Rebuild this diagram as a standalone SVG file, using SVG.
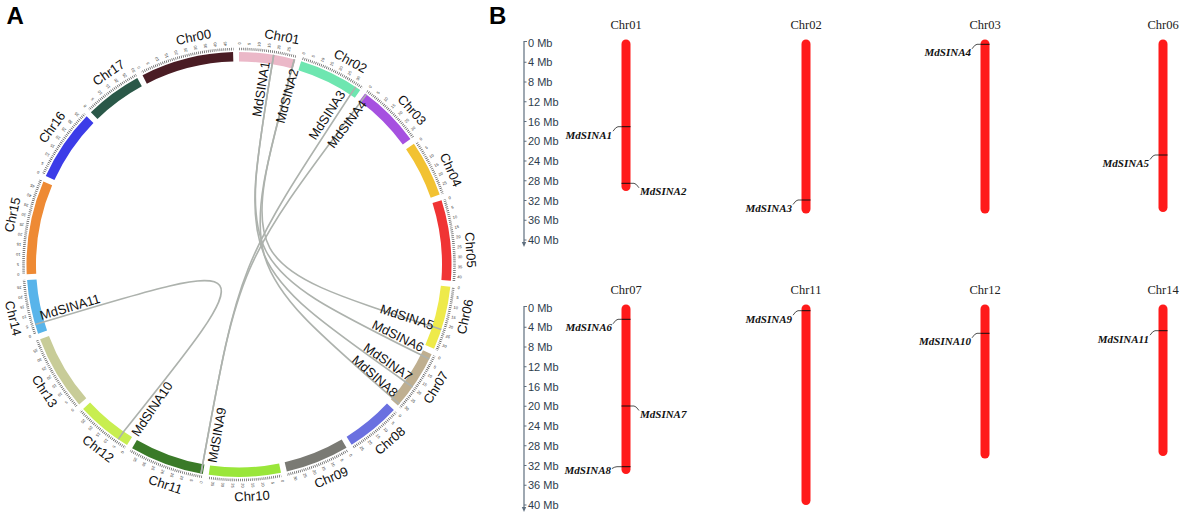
<svg xmlns="http://www.w3.org/2000/svg" xmlns:xlink="http://www.w3.org/1999/xlink" width="1183" height="519" viewBox="0 0 1183 519">
<style>
.chr{fill:none;stroke-width:9.5}
.tk{font-family:"Liberation Sans",Arial,sans-serif;font-size:4px;fill:#333;text-anchor:middle;dominant-baseline:central}
.cla{font-family:"Liberation Sans",Arial,sans-serif;font-size:13px;fill:#111;text-anchor:middle;dominant-baseline:central}
.gla{font-family:"Liberation Sans",Arial,sans-serif;font-size:13px;fill:#111;text-anchor:middle;dominant-baseline:central}
.lk{fill:none;stroke:#adb2ad;stroke-width:1.6}
.pl{font-family:"Liberation Sans",Arial,sans-serif;font-size:24px;font-weight:bold;fill:#000}
.bar{fill:#ff1a1a}
.gm{stroke:#111;stroke-width:1}
.ld{fill:none;stroke:#222;stroke-width:0.8}
.glb{font-family:"Liberation Serif","Times New Roman",serif;font-size:11px;font-weight:bold;font-style:italic;fill:#111}
.clb{font-family:"Liberation Serif","Times New Roman",serif;font-size:12.5px;fill:#222;text-anchor:middle}
.ax{font-family:"Liberation Sans",Arial,sans-serif;font-size:11px;fill:#2e3d4d}
.axl{fill:none;stroke:#5f6f7f;stroke-width:1.2}
</style>
<defs>
<mask id="tm" maskUnits="userSpaceOnUse" x="0" y="0" width="1183" height="519">
<circle cx="239" cy="264.5" r="215.5" fill="none" stroke="#fff" stroke-width="10" stroke-dasharray="57.92 6.02 66.95 6.02 65.44 6.02 57.92 6.02 82.75 6.02 65.44 6.02 62.44 6.02 55.67 6.02 65.44 6.02 73.72 6.02 76.73 6.02 57.92 6.02 77.48 6.02 55.67 6.02 96.29 6.02 73.72 6.02 58.67 6.02 95.53 6.02" transform="rotate(-90 239 264.5)"/>
</mask>
<g id="s25" class="tk">
<text transform="rotate(0 239 264.5) translate(239 43.5) rotate(-90)">0</text>
<text transform="rotate(2.6 239 264.5) translate(239 43.5) rotate(-90)">5</text>
<text transform="rotate(5.2 239 264.5) translate(239 43.5) rotate(-90)">10</text>
<text transform="rotate(7.8 239 264.5) translate(239 43.5) rotate(-90)">15</text>
<text transform="rotate(10.4 239 264.5) translate(239 43.5) rotate(-90)">20</text>
<text transform="rotate(13 239 264.5) translate(239 43.5) rotate(-90)">25</text>
</g>
<g id="s30"><use href="#s25"/><text class="tk" transform="rotate(15.6 239 264.5) translate(239 43.5) rotate(-90)">30</text></g>
<g id="s35"><use href="#s30"/><text class="tk" transform="rotate(18.2 239 264.5) translate(239 43.5) rotate(-90)">35</text></g>
<g id="s40"><use href="#s35"/><text class="tk" transform="rotate(20.8 239 264.5) translate(239 43.5) rotate(-90)">40</text></g>
<g id="s45"><use href="#s40"/><text class="tk" transform="rotate(23.4 239 264.5) translate(239 43.5) rotate(-90)">45</text></g>
</defs>
<rect width="1183" height="519" fill="#fff"/>
<text class="pl" x="6.5" y="24">A</text>
<text class="pl" x="489" y="24">B</text>

<circle cx="239" cy="264.5" r="215.5" fill="none" stroke="#555" stroke-width="2.6" stroke-dasharray="0.7 1.256" mask="url(#tm)"/>

<g id="chr01"><circle class="chr" cx="239" cy="264.5" r="207.75" stroke="#ebb8c8" stroke-dasharray="55.84 2000" transform="rotate(-90 239 264.5)"/><use href="#s25" transform="rotate(0 239 264.5)"/><text class="cla" x="239" y="32.5" transform="rotate(10.7 239 264.5)">Chr01</text></g>
<g id="chr02"><circle class="chr" cx="239" cy="264.5" r="207.75" stroke="#6ee6b0" stroke-dasharray="64.54 2000" transform="rotate(-73 239 264.5)"/><use href="#s30" transform="rotate(17 239 264.5)"/><text class="cla" x="239" y="32.5" transform="rotate(28.7 239 264.5)">Chr02</text></g>
<g id="chr03"><circle class="chr" cx="239" cy="264.5" r="207.75" stroke="#a651e0" stroke-dasharray="63.09 2000" transform="rotate(-53.6 239 264.5)"/><use href="#s30" transform="rotate(36.4 239 264.5)"/><text class="cla" x="239" y="32.5" transform="rotate(48.2 239 264.5)">Chr03</text></g>
<g id="chr04"><circle class="chr" cx="239" cy="264.5" r="207.75" stroke="#f2c232" stroke-dasharray="55.84 2000" transform="rotate(-34.6 239 264.5)"/><use href="#s25" transform="rotate(55.4 239 264.5)"/><text class="cla" x="239" y="32.5" transform="rotate(65.9 239 264.5)">Chr04</text></g>
<g id="chr05"><circle class="chr" cx="239" cy="264.5" r="207.75" stroke="#f03434" stroke-dasharray="79.77 2000" transform="rotate(-17.6 239 264.5)"/><use href="#s40" transform="rotate(72.4 239 264.5)"/><text class="cla" x="239" y="32.5" transform="rotate(86.4 239 264.5)">Chr05</text></g>
<g id="chr06"><circle class="chr" cx="239" cy="264.5" r="207.75" stroke="#eeea4a" stroke-dasharray="63.09 2000" transform="rotate(6 239 264.5)"/><use href="#s30" transform="rotate(96 239 264.5)"/><text class="cla" x="239" y="496.5" transform="rotate(-77 239 264.5)">Chr06</text></g>
<g id="chr07"><circle class="chr" cx="239" cy="264.5" r="207.75" stroke="#bfaf90" stroke-dasharray="60.19 2000" transform="rotate(25 239 264.5)"/><use href="#s30" transform="rotate(115 239 264.5)"/><text class="cla" x="239" y="496.5" transform="rotate(-58 239 264.5)">Chr07</text></g>
<g id="chr08"><circle class="chr" cx="239" cy="264.5" r="207.75" stroke="#6a70e0" stroke-dasharray="53.66 2000" transform="rotate(43.2 239 264.5)"/><use href="#s25" transform="rotate(133.2 239 264.5)"/><text class="cla" x="239" y="496.5" transform="rotate(-40.6 239 264.5)">Chr08</text></g>
<g id="chr09"><circle class="chr" cx="239" cy="264.5" r="207.75" stroke="#7a7a74" stroke-dasharray="63.09 2000" transform="rotate(59.6 239 264.5)"/><use href="#s30" transform="rotate(149.6 239 264.5)"/><text class="cla" x="239" y="496.5" transform="rotate(-23.4 239 264.5)">Chr09</text></g>
<g id="chr10"><circle class="chr" cx="239" cy="264.5" r="207.75" stroke="#9ae63a" stroke-dasharray="71.07 2000" transform="rotate(78.6 239 264.5)"/><use href="#s35" transform="rotate(168.6 239 264.5)"/><text class="cla" x="239" y="496.5" transform="rotate(-3.2 239 264.5)">Chr10</text></g>
<g id="chr11"><circle class="chr" cx="239" cy="264.5" r="207.75" stroke="#3a7a28" stroke-dasharray="73.97 2000" transform="rotate(99.8 239 264.5)"/><use href="#s35" transform="rotate(189.8 239 264.5)"/><text class="cla" x="239" y="496.5" transform="rotate(18.5 239 264.5)">Chr11</text></g>
<g id="chr12"><circle class="chr" cx="239" cy="264.5" r="207.75" stroke="#c8ee50" stroke-dasharray="55.84 2000" transform="rotate(121.8 239 264.5)"/><use href="#s25" transform="rotate(211.8 239 264.5)"/><text class="cla" x="239" y="496.5" transform="rotate(37.4 239 264.5)">Chr12</text></g>
<g id="chr13"><circle class="chr" cx="239" cy="264.5" r="207.75" stroke="#c8cc98" stroke-dasharray="74.69 2000" transform="rotate(138.8 239 264.5)"/><use href="#s35" transform="rotate(228.8 239 264.5)"/><text class="cla" x="239" y="496.5" transform="rotate(56.9 239 264.5)">Chr13</text></g>
<g id="chr14"><circle class="chr" cx="239" cy="264.5" r="207.75" stroke="#58b4ea" stroke-dasharray="53.66 2000" transform="rotate(161 239 264.5)"/><use href="#s25" transform="rotate(251 239 264.5)"/><text class="cla" x="239" y="496.5" transform="rotate(76.6 239 264.5)">Chr14</text></g>
<g id="chr15"><circle class="chr" cx="239" cy="264.5" r="207.75" stroke="#ee8a34" stroke-dasharray="92.82 2000" transform="rotate(177.4 239 264.5)"/><use href="#s45" transform="rotate(267.4 239 264.5)"/><text class="cla" x="239" y="32.5" transform="rotate(-77.6 239 264.5)">Chr15</text></g>
<g id="chr16"><circle class="chr" cx="239" cy="264.5" r="207.75" stroke="#3c3ce8" stroke-dasharray="71.07 2000" transform="rotate(204.6 239 264.5)"/><use href="#s35" transform="rotate(294.6 239 264.5)"/><text class="cla" x="239" y="32.5" transform="rotate(-53.7 239 264.5)">Chr16</text></g>
<g id="chr17"><circle class="chr" cx="239" cy="264.5" r="207.75" stroke="#2a5848" stroke-dasharray="56.56 2000" transform="rotate(225.8 239 264.5)"/><use href="#s30" transform="rotate(315.8 239 264.5)"/><text class="cla" x="239" y="32.5" transform="rotate(-34.2 239 264.5)">Chr17</text></g>
<g id="chr00"><circle class="chr" cx="239" cy="264.5" r="207.75" stroke="#4a1c24" stroke-dasharray="92.10 2000" transform="rotate(243 239 264.5)"/><use href="#s45" transform="rotate(333 239 264.5)"/><text class="cla" x="239" y="32.5" transform="rotate(-11.3 239 264.5)">Chr00</text></g>

<g id="links">
<path class="lk" d="M273.7,54.8 L272.2,64.2 C239,264.5 239,264.5 404.9,381.5 L412.6,387"/>
<path class="lk" d="M294.4,59.3 L291.9,68.5 C239,264.5 239,264.5 392.2,397.7 L399.4,403.9"/>
<path class="lk" d="M273.7,54.8 L272.2,64.2 C239,264.5 239,264.5 420.8,354.8 L429.3,359"/>
<path class="lk" d="M294.4,59.3 L291.9,68.5 C239,264.5 239,264.5 432.3,326.6 L441.3,329.5"/>
<path class="lk" d="M355.7,86.9 L350.4,94.8 C239,264.5 239,264.5 202.7,464.2 L201,473.6"/>
<path class="lk" d="M366.3,94.4 L360.6,102 C239,264.5 239,264.5 202.7,464.2 L201,473.6"/>
<path class="lk" d="M35.1,324.5 L44.3,321.8 C265,255 265,255 123.7,431.6 L118.3,439.4"/>
</g>

<g id="genesA">
<text class="gla" x="261" y="89" transform="rotate(-81 261 89)">MdSINA1</text>
<text class="gla" x="287" y="96" transform="rotate(-75 287 96)">MdSINA2</text>
<text class="gla" x="327" y="115" transform="rotate(-57 327 115)">MdSINA3</text>
<text class="gla" x="347" y="124" transform="rotate(-53 347 124)">MdSINA4</text>
<text class="gla" x="407" y="317" transform="rotate(18 407 317)">MdSINA5</text>
<text class="gla" x="398" y="336" transform="rotate(26 398 336)">MdSINA6</text>
<text class="gla" x="388" y="362" transform="rotate(35 388 362)">MdSINA7</text>
<text class="gla" x="375" y="376" transform="rotate(41 375 376)">MdSINA8</text>
<text class="gla" x="217" y="435" transform="rotate(-80 217 435)">MdSINA9</text>
<text class="gla" x="152" y="409" transform="rotate(-56 152 409)">MdSINA10</text>
<text class="gla" x="70" y="307" transform="rotate(-16.5 70 307)">MdSINA11</text>
</g>

<g id="axis1">
<path class="axl" d="M527,41.5 H524 V245"/>
<path d="M521.8,242 L526.2,242 L524,247 Z" fill="#5f6f7f"/>
<path class="axl" d="M524,62.25 h2.5 M524,82 h2.5 M524,101.75 h2.5 M524,121.5 h2.5 M524,141.25 h2.5 M524,161 h2.5 M524,180.75 h2.5 M524,200.5 h2.5 M524,220.25 h2.5 M524,240 h2.5"/>
<text class="ax" x="528" y="46.5">0 Mb</text>
<text class="ax" x="528" y="66.25">4 Mb</text>
<text class="ax" x="528" y="86">8 Mb</text>
<text class="ax" x="528" y="105.75">12 Mb</text>
<text class="ax" x="528" y="125.5">16 Mb</text>
<text class="ax" x="528" y="145.25">20 Mb</text>
<text class="ax" x="528" y="165">24 Mb</text>
<text class="ax" x="528" y="184.75">28 Mb</text>
<text class="ax" x="528" y="204.5">32 Mb</text>
<text class="ax" x="528" y="224.25">36 Mb</text>
<text class="ax" x="528" y="244">40 Mb</text>
</g>
<g id="axis2">
<path class="axl" d="M527,306.5 H524 V510"/>
<path d="M521.8,507 L526.2,507 L524,512 Z" fill="#5f6f7f"/>
<path class="axl" d="M524,327.25 h2.5 M524,347 h2.5 M524,366.75 h2.5 M524,386.5 h2.5 M524,406.25 h2.5 M524,426 h2.5 M524,445.75 h2.5 M524,465.5 h2.5 M524,485.25 h2.5 M524,505 h2.5"/>
<text class="ax" x="528" y="311.5">0 Mb</text>
<text class="ax" x="528" y="331.25">4 Mb</text>
<text class="ax" x="528" y="351">8 Mb</text>
<text class="ax" x="528" y="370.75">12 Mb</text>
<text class="ax" x="528" y="390.5">16 Mb</text>
<text class="ax" x="528" y="410.25">20 Mb</text>
<text class="ax" x="528" y="430">24 Mb</text>
<text class="ax" x="528" y="449.75">28 Mb</text>
<text class="ax" x="528" y="469.5">32 Mb</text>
<text class="ax" x="528" y="489.25">36 Mb</text>
<text class="ax" x="528" y="509">40 Mb</text>
</g>

<g id="b-chr01">
<text class="clb" x="626" y="29">Chr01</text>
<rect class="bar" x="621.5" y="39.5" width="9" height="151.5" rx="4.5"/>
<path class="gm" d="M621.5,126.7 H630.5 M621.5,183.3 H630.5"/>
<path class="ld" d="M621.5,126.7 H618 Q616,126.7 613,131.2 M630.5,183.3 H634 Q636,183.3 639,187.8"/>
<text class="glb" x="612" y="138.7" text-anchor="end">MdSINA1</text>
<text class="glb" x="640" y="195.3">MdSINA2</text>
</g>
<g id="b-chr02">
<text class="clb" x="806" y="29">Chr02</text>
<rect class="bar" x="801.5" y="39.5" width="9" height="174" rx="4.5"/>
<path class="gm" d="M801.5,200 H810.5"/>
<path class="ld" d="M801.5,200 H798 Q796,200 793,204.5"/>
<text class="glb" x="792" y="212" text-anchor="end">MdSINA3</text>
</g>
<g id="b-chr03">
<text class="clb" x="985" y="29">Chr03</text>
<rect class="bar" x="980.5" y="39.5" width="9" height="174" rx="4.5"/>
<path class="gm" d="M980.5,44.3 H989.5"/>
<path class="ld" d="M980.5,44.3 H977 Q975,44.3 972,48.8"/>
<text class="glb" x="971" y="56.3" text-anchor="end">MdSINA4</text>
</g>
<g id="b-chr06">
<text class="clb" x="1163" y="29">Chr06</text>
<rect class="bar" x="1158.5" y="39.5" width="9" height="172.5" rx="4.5"/>
<path class="gm" d="M1158.5,155 H1167.5"/>
<path class="ld" d="M1158.5,155 H1155 Q1153,155 1150,159.5"/>
<text class="glb" x="1149" y="167" text-anchor="end">MdSINA5</text>
</g>
<g id="b-chr07">
<text class="clb" x="626" y="294">Chr07</text>
<rect class="bar" x="621.5" y="304.5" width="9" height="169.5" rx="4.5"/>
<path class="gm" d="M621.5,319.3 H630.5 M621.5,406 H630.5 M621.5,466.7 H630.5"/>
<path class="ld" d="M621.5,319.3 H618 Q616,319.3 613,323.8 M630.5,406 H634 Q636,406 639,410.5 M621.5,466.7 H617 Q615,466.7 612,468.5"/>
<text class="glb" x="612" y="331.3" text-anchor="end">MdSINA6</text>
<text class="glb" x="640" y="418">MdSINA7</text>
<text class="glb" x="611" y="474" text-anchor="end">MdSINA8</text>
</g>
<g id="b-chr11">
<text class="clb" x="806" y="294">Chr11</text>
<rect class="bar" x="801.5" y="304.5" width="9" height="200.5" rx="4.5"/>
<path class="gm" d="M801.5,310.7 H810.5"/>
<path class="ld" d="M801.5,310.7 H798 Q796,310.7 793,315.2"/>
<text class="glb" x="792" y="322.7" text-anchor="end">MdSINA9</text>
</g>
<g id="b-chr12">
<text class="clb" x="985" y="294">Chr12</text>
<rect class="bar" x="980.5" y="304.5" width="9" height="154" rx="4.5"/>
<path class="gm" d="M980.5,333.3 H989.5"/>
<path class="ld" d="M980.5,333.3 H977 Q975,333.3 972,337.8"/>
<text class="glb" x="971" y="345.3" text-anchor="end">MdSINA10</text>
</g>
<g id="b-chr14">
<text class="clb" x="1163" y="294">Chr14</text>
<rect class="bar" x="1158.5" y="304.5" width="9" height="151.5" rx="4.5"/>
<path class="gm" d="M1158.5,330.7 H1167.5"/>
<path class="ld" d="M1158.5,330.7 H1155 Q1153,330.7 1150,335.2"/>
<text class="glb" x="1149" y="342.7" text-anchor="end">MdSINA11</text>
</g>
</svg>
